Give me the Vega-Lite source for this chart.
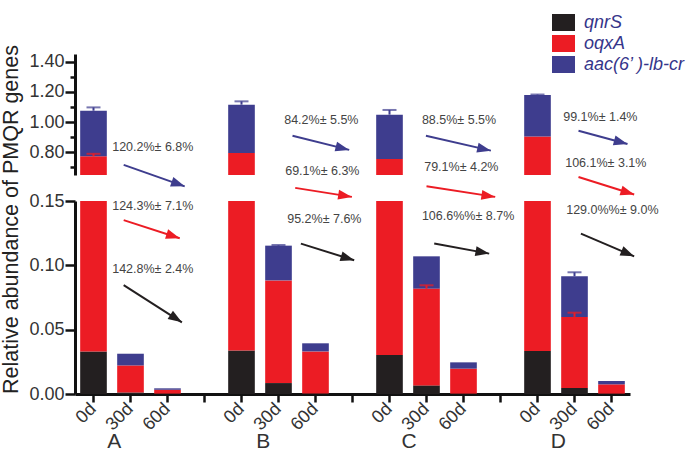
{
  "$schema": "https://vega.github.io/schema/vega-lite/v6.json",
  "padding": {"left": 0, "top": 11, "right": 2, "bottom": 2},
  "bounds": "flush",
  "spacing": 26,
  "config": {
    "view": {"stroke": null},
    "font": "Liberation Sans",
    "axis": {"domainColor": "#111111", "domainWidth": 3, "tickColor": "#111111", "tickWidth": 2.5, "labelColor": "#333333", "labelFont": "Liberation Sans", "labelFontSize": 18, "grid": false, "labelOverlap": false}
  },
  "datasets": {
    "bars": [
      {"slot": "A|0d", "gene": "qnrS", "value": 0.033},
      {"slot": "A|0d", "gene": "oqxA", "value": 0.741},
      {"slot": "A|0d", "gene": "aac(6’ )-lb-cr", "value": 0.301},
      {"slot": "A|30d", "gene": "qnrS", "value": 0.0012},
      {"slot": "A|30d", "gene": "oqxA", "value": 0.021},
      {"slot": "A|30d", "gene": "aac(6’ )-lb-cr", "value": 0.0091},
      {"slot": "A|60d", "gene": "qnrS", "value": 0.0003},
      {"slot": "A|60d", "gene": "oqxA", "value": 0.003},
      {"slot": "A|60d", "gene": "aac(6’ )-lb-cr", "value": 0.0011},
      {"slot": "B|0d", "gene": "qnrS", "value": 0.0339},
      {"slot": "B|0d", "gene": "oqxA", "value": 0.7621},
      {"slot": "B|0d", "gene": "aac(6’ )-lb-cr", "value": 0.319},
      {"slot": "B|30d", "gene": "qnrS", "value": 0.0085},
      {"slot": "B|30d", "gene": "oqxA", "value": 0.0798},
      {"slot": "B|30d", "gene": "aac(6’ )-lb-cr", "value": 0.027},
      {"slot": "B|60d", "gene": "qnrS", "value": 0.0004},
      {"slot": "B|60d", "gene": "oqxA", "value": 0.0327},
      {"slot": "B|60d", "gene": "aac(6’ )-lb-cr", "value": 0.0063},
      {"slot": "C|0d", "gene": "qnrS", "value": 0.0303},
      {"slot": "C|0d", "gene": "oqxA", "value": 0.7257},
      {"slot": "C|0d", "gene": "aac(6’ )-lb-cr", "value": 0.293},
      {"slot": "C|30d", "gene": "qnrS", "value": 0.0067},
      {"slot": "C|30d", "gene": "oqxA", "value": 0.0752},
      {"slot": "C|30d", "gene": "aac(6’ )-lb-cr", "value": 0.0251},
      {"slot": "C|60d", "gene": "qnrS", "value": 0.0003},
      {"slot": "C|60d", "gene": "oqxA", "value": 0.0194},
      {"slot": "C|60d", "gene": "aac(6’ )-lb-cr", "value": 0.0049},
      {"slot": "D|0d", "gene": "qnrS", "value": 0.0334},
      {"slot": "D|0d", "gene": "oqxA", "value": 0.8706},
      {"slot": "D|0d", "gene": "aac(6’ )-lb-cr", "value": 0.275},
      {"slot": "D|30d", "gene": "qnrS", "value": 0.0047},
      {"slot": "D|30d", "gene": "oqxA", "value": 0.0552},
      {"slot": "D|30d", "gene": "aac(6’ )-lb-cr", "value": 0.0316},
      {"slot": "D|60d", "gene": "qnrS", "value": 0.0003},
      {"slot": "D|60d", "gene": "oqxA", "value": 0.0072},
      {"slot": "D|60d", "gene": "aac(6’ )-lb-cr", "value": 0.0026}
    ],
    "errs": [
      {"slot": "A|0d", "gene": "aac(6’ )-lb-cr", "low": 1.075, "high": 1.097},
      {"slot": "A|0d", "gene": "oqxA", "low": 0.774, "high": 0.79},
      {"slot": "B|0d", "gene": "aac(6’ )-lb-cr", "low": 1.115, "high": 1.137},
      {"slot": "C|0d", "gene": "aac(6’ )-lb-cr", "low": 1.049, "high": 1.08},
      {"slot": "D|0d", "gene": "aac(6’ )-lb-cr", "low": 1.179, "high": 1.182},
      {"slot": "B|30d", "gene": "aac(6’ )-lb-cr", "low": 0.1153, "high": 0.1158},
      {"slot": "C|30d", "gene": "oqxA", "low": 0.0819, "high": 0.0845},
      {"slot": "D|30d", "gene": "aac(6’ )-lb-cr", "low": 0.0915, "high": 0.0946},
      {"slot": "D|30d", "gene": "oqxA", "low": 0.0599, "high": 0.0632}
    ],
    "blue": [
      {"gene": "aac(6’ )-lb-cr", "label": "120.2%± 6.8%", "tx": 0.505, "ty": 0.833, "x1": 0.816, "y1": 0.717, "x2": 2.465, "y2": 0.575},
      {"gene": "aac(6’ )-lb-cr", "label": "84.2%± 5.5%", "tx": 5.154, "ty": 1.014, "x1": 5.378, "y1": 0.91, "x2": 6.911, "y2": 0.816},
      {"gene": "aac(6’ )-lb-cr", "label": "88.5%± 5.5%", "tx": 8.876, "ty": 1.014, "x1": 8.984, "y1": 0.91, "x2": 10.741, "y2": 0.811},
      {"gene": "aac(6’ )-lb-cr", "label": "99.1%± 1.4%", "tx": 12.695, "ty": 1.031, "x1": 13.108, "y1": 0.943, "x2": 14.432, "y2": 0.855}
    ],
    "lower": [
      {"gene": "oqxA", "label": "124.3%± 7.1%", "tx": 0.505, "ty": 0.1464, "x1": 0.816, "y1": 0.1351, "x2": 2.33, "y2": 0.1211},
      {"gene": "oqxA", "label": "69.1%± 6.3%", "tx": 5.181, "ty": 0.1736, "x1": 5.451, "y1": 0.1602, "x2": 6.984, "y2": 0.1532},
      {"gene": "oqxA", "label": "79.1%± 4.2%", "tx": 8.938, "ty": 0.1765, "x1": 9.0, "y1": 0.1614, "x2": 10.857, "y2": 0.1532},
      {"gene": "oqxA", "label": "106.1%± 3.1%", "tx": 12.749, "ty": 0.1796, "x1": 13.108, "y1": 0.1687, "x2": 14.613, "y2": 0.155},
      {"gene": "qnrS", "label": "142.8%± 2.4%", "tx": 0.505, "ty": 0.0972, "x1": 0.816, "y1": 0.0846, "x2": 2.389, "y2": 0.0557},
      {"gene": "qnrS", "label": "95.2%± 7.6%", "tx": 5.235, "ty": 0.1361, "x1": 5.605, "y1": 0.1169, "x2": 7.046, "y2": 0.1039},
      {"gene": "qnrS", "label": "106.6%%± 8.7%", "tx": 8.876, "ty": 0.1381, "x1": 9.208, "y1": 0.1169, "x2": 10.695, "y2": 0.1091},
      {"gene": "qnrS", "label": "129.0%%± 9.0%", "tx": 12.776, "ty": 0.1433, "x1": 13.173, "y1": 0.1247, "x2": 14.613, "y2": 0.107}
    ],
    "groups": [
      {"group": "A", "gx": 0.56},
      {"group": "B", "gx": 4.586},
      {"group": "C", "gx": 8.53},
      {"group": "D", "gx": 12.56}
    ]
  },
  "vconcat": [
    {
      "width": 555,
      "height": 121,
      "layer": [
        {
          "data": {"name": "bars"},
          "transform": [{"calculate": "indexof(['qnrS','oqxA','aac(6’ )-lb-cr'], datum.gene)", "as": "rank"}],
          "mark": {"type": "bar", "clip": true},
          "encoding": {
            "x": {"field": "slot", "type": "nominal", "sort": null, "scale": {"domain": ["A|0d","A|30d","A|60d","gap1","B|0d","B|30d","B|60d","gap2","C|0d","C|30d","C|60d","gap3","D|0d","D|30d","D|60d"], "paddingInner": 0.28, "paddingOuter": 0.14}, "axis": null},
            "y": {"field": "value", "type": "quantitative", "stack": "zero", "scale": {"domain": [0.65, 1.45], "nice": false, "zero": false},
              "axis": {"orient": "left", "title": null, "values": [0.8, 1.0, 1.2, 1.4], "format": ".2f", "tickSize": 10, "labelPadding": 1}},
            "color": {"field": "gene", "type": "nominal", "scale": {"domain": ["qnrS","oqxA","aac(6’ )-lb-cr"], "range": ["#231f20","#ec1c24","#3e3d8e"]},
              "legend": {"orient": "none", "legendX": 477, "legendY": -43, "title": null, "symbolType": "M-1,-0.74H1V0.74H-1Z", "symbolSize": 529, "symbolStrokeWidth": 0, "labelFontSize": 18, "labelFontStyle": "italic", "labelColor": "#35358a", "labelFont": "Liberation Sans", "rowPadding": 0, "labelOffset": 9, "padding": 0, "labelLimit": 200}},
            "order": {"field": "rank", "type": "quantitative"}
          }
        },
        {
          "data": {"name": "errs"},
          "mark": {"type": "rule", "clip": true, "strokeWidth": 2},
          "encoding": {
            "x": {"field": "slot", "type": "nominal", "sort": null, "scale": {"domain": ["A|0d","A|30d","A|60d","gap1","B|0d","B|30d","B|60d","gap2","C|0d","C|30d","C|60d","gap3","D|0d","D|30d","D|60d"], "paddingInner": 0.28, "paddingOuter": 0.14}, "axis": null},
            "y": {"field": "low", "type": "quantitative", "scale": {"domain": [0.65, 1.45], "nice": false, "zero": false},
              "axis": {"orient": "left", "title": null, "values": [0.7, 0.9, 1.1, 1.3], "labels": false, "domain": false, "tickSize": 5}},
            "y2": {"field": "high"},
            "color": {"field": "gene", "type": "nominal", "legend": null}
          }
        },
        {
          "data": {"name": "errs"},
          "mark": {"type": "tick", "clip": true, "thickness": 2, "size": 14, "orient": "horizontal"},
          "encoding": {
            "x": {"field": "slot", "type": "nominal", "sort": null, "scale": {"domain": ["A|0d","A|30d","A|60d","gap1","B|0d","B|30d","B|60d","gap2","C|0d","C|30d","C|60d","gap3","D|0d","D|30d","D|60d"], "paddingInner": 0.28, "paddingOuter": 0.14}, "axis": null},
            "y": {"field": "high", "type": "quantitative", "scale": {"domain": [0.65, 1.45], "nice": false, "zero": false}, "axis": null},
            "color": {"field": "gene", "type": "nominal", "legend": null}
          }
        },
        {
          "data": {"name": "blue"},
          "mark": {"type": "text", "align": "left", "baseline": "middle", "fontSize": 12.5, "color": "#444444"},
          "encoding": {
            "x": {"field": "tx", "type": "quantitative", "scale": {"domain": [-0.5, 14.5], "nice": false, "zero": false}, "axis": null},
            "y": {"field": "ty", "type": "quantitative", "scale": {"domain": [0.65, 1.45], "nice": false, "zero": false}, "axis": null},
            "text": {"field": "label"}
          }
        },
        {
          "data": {"name": "blue"},
          "mark": {"type": "rule", "strokeWidth": 2},
          "encoding": {
            "x": {"field": "x1", "type": "quantitative", "scale": {"domain": [-0.5, 14.5], "nice": false, "zero": false}, "axis": null},
            "x2": {"field": "x2"},
            "y": {"field": "y1", "type": "quantitative", "scale": {"domain": [0.65, 1.45], "nice": false, "zero": false}, "axis": null},
            "y2": {"field": "y2"},
            "color": {"field": "gene", "type": "nominal", "legend": null}
          }
        },
        {
          "data": {"name": "blue"},
          "transform": [{"calculate": "atan2((datum.y1-datum.y2)*151.7,(datum.x2-datum.x1)*37)*180/PI", "as": "ang"}],
          "mark": {"type": "point", "shape": "M0,0L-2,-0.72L-2,0.72Z", "filled": true, "size": 190, "opacity": 1, "strokeWidth": 0},
          "encoding": {
            "x": {"field": "x2", "type": "quantitative", "scale": {"domain": [-0.5, 14.5], "nice": false, "zero": false}, "axis": null},
            "y": {"field": "y2", "type": "quantitative", "scale": {"domain": [0.65, 1.45], "nice": false, "zero": false}, "axis": null},
            "angle": {"field": "ang", "type": "quantitative", "scale": null},
            "color": {"field": "gene", "type": "nominal", "legend": null}
          }
        }
      ],
      "resolve": {"scale": {"x": "independent"}, "axis": {"y": "independent"}}
    },
    {
      "width": 555,
      "height": 193,
      "layer": [
        {
          "data": {"name": "bars"},
          "transform": [{"calculate": "indexof(['qnrS','oqxA','aac(6’ )-lb-cr'], datum.gene)", "as": "rank"}],
          "mark": {"type": "bar", "clip": true},
          "encoding": {
            "x": {"field": "slot", "type": "nominal", "sort": null, "scale": {"domain": ["A|0d","A|30d","A|60d","gap1","B|0d","B|30d","B|60d","gap2","C|0d","C|30d","C|60d","gap3","D|0d","D|30d","D|60d"], "paddingInner": 0.28, "paddingOuter": 0.14},
              "axis": {"title": null, "labelExpr": "indexof(datum.value,'|')>0 ? split(datum.value,'|')[1] : ''", "labelAngle": -45, "labelAlign": "right", "labelBaseline": "middle", "tickSize": 8, "labelPadding": 4, "bandPosition": 0.5}},
            "y": {"field": "value", "type": "quantitative", "stack": "zero", "scale": {"domain": [0, 0.15], "nice": false, "zero": false},
              "axis": {"title": "Relative abundance of PMQR genes", "titleFontSize": 21.5, "titleFontWeight": "normal", "titleColor": "#222222", "titleX": -57.5, "titleY": 18, "titleAngle": -90, "titleAlign": "center", "titleBaseline": "alphabetic",
                "values": [0, 0.025, 0.05, 0.075, 0.1, 0.125, 0.15], "labelExpr": "abs(datum.value*20-round(datum.value*20))<0.001 ? format(datum.value,'.2f') : ''", "tickSize": {"condition": {"test": "abs(datum.value*20-round(datum.value*20))<0.001", "value": 10}, "value": 5}, "labelPadding": 1}},
            "color": {"field": "gene", "type": "nominal", "legend": null},
            "order": {"field": "rank", "type": "quantitative"}
          }
        },
        {
          "data": {"name": "errs"},
          "mark": {"type": "rule", "clip": true, "strokeWidth": 2},
          "encoding": {
            "x": {"field": "slot", "type": "nominal", "sort": null, "scale": {"domain": ["A|0d","A|30d","A|60d","gap1","B|0d","B|30d","B|60d","gap2","C|0d","C|30d","C|60d","gap3","D|0d","D|30d","D|60d"], "paddingInner": 0.28, "paddingOuter": 0.14}, "axis": null},
            "y": {"field": "low", "type": "quantitative", "scale": {"domain": [0, 0.15], "nice": false, "zero": false}},
            "y2": {"field": "high"},
            "color": {"field": "gene", "type": "nominal", "legend": null}
          }
        },
        {
          "data": {"name": "errs"},
          "mark": {"type": "tick", "clip": true, "thickness": 2, "size": 14, "orient": "horizontal"},
          "encoding": {
            "x": {"field": "slot", "type": "nominal", "sort": null, "scale": {"domain": ["A|0d","A|30d","A|60d","gap1","B|0d","B|30d","B|60d","gap2","C|0d","C|30d","C|60d","gap3","D|0d","D|30d","D|60d"], "paddingInner": 0.28, "paddingOuter": 0.14}, "axis": null},
            "y": {"field": "high", "type": "quantitative", "scale": {"domain": [0, 0.15], "nice": false, "zero": false}},
            "color": {"field": "gene", "type": "nominal", "legend": null}
          }
        },
        {
          "data": {"name": "lower"},
          "mark": {"type": "text", "align": "left", "baseline": "middle", "fontSize": 12.5, "color": "#444444"},
          "encoding": {
            "x": {"field": "tx", "type": "quantitative", "scale": {"domain": [-0.5, 14.5], "nice": false, "zero": false}, "axis": null},
            "y": {"field": "ty", "type": "quantitative", "scale": {"domain": [0, 0.15], "nice": false, "zero": false}},
            "text": {"field": "label"}
          }
        },
        {
          "data": {"name": "lower"},
          "mark": {"type": "rule", "strokeWidth": 2},
          "encoding": {
            "x": {"field": "x1", "type": "quantitative", "scale": {"domain": [-0.5, 14.5], "nice": false, "zero": false}, "axis": null},
            "x2": {"field": "x2"},
            "y": {"field": "y1", "type": "quantitative", "scale": {"domain": [0, 0.15], "nice": false, "zero": false}},
            "y2": {"field": "y2"},
            "color": {"field": "gene", "type": "nominal", "legend": null}
          }
        },
        {
          "data": {"name": "lower"},
          "transform": [{"calculate": "atan2((datum.y1-datum.y2)*1286,(datum.x2-datum.x1)*37)*180/PI", "as": "ang"}],
          "mark": {"type": "point", "shape": "M0,0L-2,-0.72L-2,0.72Z", "filled": true, "size": 190, "opacity": 1, "strokeWidth": 0},
          "encoding": {
            "x": {"field": "x2", "type": "quantitative", "scale": {"domain": [-0.5, 14.5], "nice": false, "zero": false}, "axis": null},
            "y": {"field": "y2", "type": "quantitative", "scale": {"domain": [0, 0.15], "nice": false, "zero": false}},
            "angle": {"field": "ang", "type": "quantitative", "scale": null},
            "color": {"field": "gene", "type": "nominal", "legend": null}
          }
        },
        {
          "data": {"name": "groups"},
          "mark": {"type": "text", "align": "center", "baseline": "middle", "fontSize": 21, "color": "#333333"},
          "encoding": {
            "x": {"field": "gx", "type": "quantitative", "scale": {"domain": [-0.5, 14.5], "nice": false, "zero": false}, "axis": null},
            "y": {"datum": -0.0371, "type": "quantitative", "scale": {"domain": [0, 0.15], "nice": false, "zero": false}},
            "text": {"field": "group"}
          }
        }
      ],
      "resolve": {"scale": {"x": "independent"}}
    }
  ],
  "resolve": {"scale": {"color": "shared"}}
}
